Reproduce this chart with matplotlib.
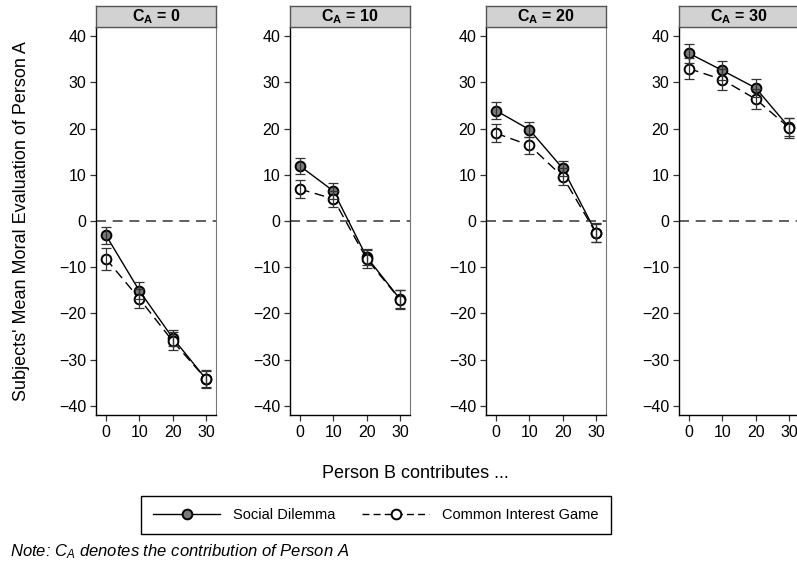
import matplotlib
matplotlib.use("Agg")
import matplotlib.pyplot as plt
from matplotlib.lines import Line2D

plt.rcParams['font.family'] = ['Liberation Sans', 'DejaVu Sans']
plt.rcParams['mathtext.fontset'] = 'custom'
plt.rcParams['mathtext.rm'] = 'Liberation Sans'
plt.rcParams['mathtext.bf'] = 'Liberation Sans:bold'
plt.rcParams['mathtext.it'] = 'Liberation Sans:italic'

# --- data ---
contrib_b = [0, 10, 20, 30]
panel_titles = [r"$\mathbf{C_{A}}$ = 0", r"$\mathbf{C_{A}}$ = 10",
                r"$\mathbf{C_{A}}$ = 20", r"$\mathbf{C_{A}}$ = 30"]

sd_mean = [[-3.1, -15.1, -25.3, -34.2],
           [11.9, 6.5, -7.8, -16.9],
           [23.9, 19.8, 11.4, -2.5],
           [36.3, 32.6, 28.8, 20.3]]
sd_err = [[1.8, 1.8, 1.8, 1.8],
          [1.8, 1.7, 1.8, 1.9],
          [1.8, 1.7, 1.6, 2.0],
          [2.1, 2.0, 1.9, 2.0]]
cig_mean = [[-8.2, -16.8, -26.0, -34.2],
            [6.9, 4.8, -8.2, -17.0],
            [19.0, 16.4, 9.6, -2.6],
            [33.0, 30.6, 26.4, 20.2]]
cig_err = [[2.3, 2.0, 2.0, 1.9],
           [1.9, 1.8, 1.9, 2.0],
           [1.9, 1.8, 1.9, 2.0],
           [2.3, 2.2, 2.1, 2.2]]

W, H = 797, 567
fig = plt.figure(figsize=(W / 100, H / 100), dpi=100)

lefts = [96, 290, 486, 679]
pw = 120
top_px, bot_px = 27, 415
hdr_h = 21

for i in range(4):
    ax = fig.add_axes([lefts[i] / W, 1 - bot_px / H, pw / W, (bot_px - top_px) / H])
    ax.axhline(0, color='#444444', lw=1.2, ls=(0, (6, 4)), zorder=1)
    ax.plot(contrib_b, sd_mean[i], '-', color='black', lw=1.0, zorder=2)
    ax.plot(contrib_b, cig_mean[i], color='black', lw=1.0, ls=(0, (7, 4)), zorder=2)
    ax.plot(contrib_b, sd_mean[i], 'o', ms=7, mfc='#7a7a7a', mec='black', mew=1.4, zorder=3)
    ax.plot(contrib_b, cig_mean[i], 'o', ms=7, mfc='white', mec='black', mew=1.4, zorder=3)
    ax.errorbar(contrib_b, sd_mean[i], yerr=sd_err[i], fmt='none', ecolor='#333333',
                elinewidth=0.9, capsize=3.5, capthick=0.9, zorder=4)
    ax.errorbar(contrib_b, cig_mean[i], yerr=cig_err[i], fmt='none', ecolor='#333333',
                elinewidth=0.9, capsize=3.5, capthick=0.9, zorder=4)

    ax.set_xlim(-3, 33)
    ax.set_ylim(-42, 42)
    ax.set_xticks(contrib_b)
    ax.set_yticks([-40, -30, -20, -10, 0, 10, 20, 30, 40])
    ax.tick_params(labelsize=11.5, length=4, width=0.9, color='#333333', pad=3)
    for s in ['top', 'right']:
        ax.spines[s].set_color('#777777')
        ax.spines[s].set_linewidth(0.8)
    for s in ['left', 'bottom']:
        ax.spines[s].set_color('black')
        ax.spines[s].set_linewidth(1.0)

    hax = fig.add_axes([lefts[i] / W, 1 - top_px / H, pw / W, hdr_h / H])
    hax.set_facecolor('#d2d2d2')
    hax.set_xticks([])
    hax.set_yticks([])
    for s in hax.spines.values():
        s.set_color('#555555')
        s.set_linewidth(1.0)
    hax.text(0.5, 0.5, panel_titles[i], ha='center', va='center', fontsize=11.5,
             fontweight='bold', transform=hax.transAxes)

fig.text(22 / W, 1 - 221 / H, "Subjects' Mean Moral Evaluation of Person A",
         rotation=90, ha='center', va='center', fontsize=13)
fig.text(415 / W, 1 - 474 / H, "Person B contributes ...", ha='center', va='center',
         fontsize=13)

handles = [
    Line2D([], [], color='black', lw=1.0, marker='o', ms=7, mfc='#7a7a7a', mec='black', mew=1.4),
    Line2D([], [], color='black', lw=1.0, ls=(0, (5, 3)), marker='o', ms=7, mfc='white',
           mec='black', mew=1.4),
]
leg = fig.legend(handles, ['Social Dilemma', 'Common Interest Game'], ncol=2,
                 loc='center', bbox_to_anchor=(376 / W, 1 - 515 / H), fontsize=10.5,
                 handlelength=4.6, columnspacing=1.8, handletextpad=0.9,
                 fancybox=False, edgecolor='black', framealpha=1,
                 borderpad=0.85)
leg.get_frame().set_linewidth(1.0)

fig.text(10 / W, 1 - 552 / H, r"Note: $C_{A}$ denotes the contribution of Person A",
         ha='left', va='center', fontsize=12, style='italic')

fig.savefig('out.png', dpi=100)
